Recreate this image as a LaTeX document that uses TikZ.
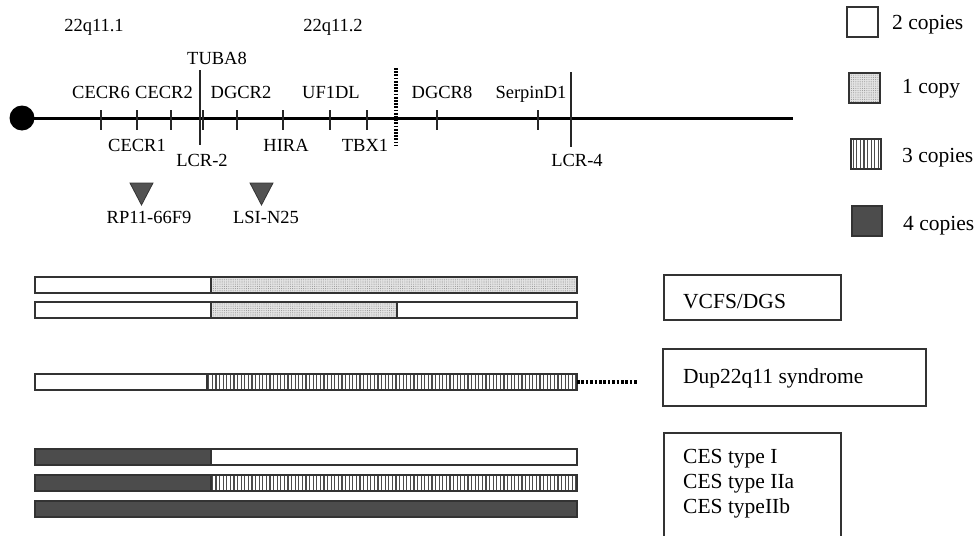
\documentclass[tikz,border=0pt]{standalone}
\usepackage{fontspec}
\setmainfont{Liberation Serif}
\usetikzlibrary{patterns,patterns.meta}
\tikzset{
  lab/.style={font=\fontsize{18.5}{20}\selectfont, anchor=base, inner sep=0pt},
  leg/.style={font=\fontsize{21.5}{24}\selectfont, anchor=base west, inner sep=0pt},
  tickmark/.style={line width=1.4pt, draw=black!85},
  lcr/.style={line width=1.5pt, draw=black!85},
  segbox/.style={draw=black!80, line width=1.3pt},
  whiteseg/.style={segbox, fill=white},
  stipseg/.style={segbox, preaction={fill=gray!22}, pattern={Dots[distance=2.2pt, radius=0.55pt]}, pattern color=gray!80},
  stripeseg/.style={segbox, preaction={fill=white}, pattern={Lines[angle=90,distance=3.6pt,line width=1.3pt]}, pattern color=black!70},
  darkseg/.style={segbox, fill=black!70},
  framebox/.style={draw=black!80, line width=1.4pt},
  probe/.style={draw=black!80, fill=black!68, line width=0.8pt},
}
\begin{document}
\begin{tikzpicture}[x=1pt,y=-1pt]
\useasboundingbox (0,0) rectangle (979,535);

% band labels
\node[lab] (b1) at (94,32) {22q11.1};
\node[lab] (b2) at (333,32) {22q11.2};

% chromosome
\node[circle, fill=black, minimum size=25pt, inner sep=0pt] (cen) at (22,118) {};
\coordinate (qter) at (793,118);
\draw[line width=3pt] (cen.center) -- (qter);

% ticks
\foreach \x in {101,137,171,203,237,283,330,367,437,538}
  \draw[tickmark] (\x,110) -- (\x,130);

% LCR lines and dotted boundary
\coordinate (l2t) at (200,70); \coordinate (l2b) at (200,145);
\coordinate (l4t) at (571,72); \coordinate (l4b) at (571,147);
\coordinate (dtt) at (396,68); \coordinate (dtb) at (396,145);
\draw[lcr] (l2t) -- (l2b);
\draw[lcr] (l4t) -- (l4b);
\draw[line width=3.2pt, dash pattern=on 1.8pt off 1.4pt] (dtt) -- (dtb);

% gene labels above
\node[lab] (tuba) at (217,64) {TUBA8};
\node[lab] (cecr6) at (101,98) {CECR6};
\node[lab] (cecr2) at (164,98) {CECR2};
\node[lab] (dgcr2) at (241,98) {DGCR2};
\node[lab] (uf1dl) at (331,98) {UF1DL};
\node[lab] (dgcr8) at (442,98) {DGCR8};
\node[lab] (serp) at (531,98) {SerpinD1};

% gene labels below
\node[lab] (cecr1) at (137,151) {CECR1};
\node[lab] (hira) at (286,151) {HIRA};
\node[lab] (tbx1) at (365,151) {TBX1};
\node[lab] (lcr2) at (202,166) {LCR-2};
\node[lab] (lcr4) at (577,166) {LCR-4};

% probes
\draw[probe] (130,183) -- (153,183) -- (141.5,205) -- cycle;
\draw[probe] (250,183) -- (273,183) -- (261.5,205) -- cycle;
\node[lab] (rp) at (149,223) {RP11-66F9};
\node[lab] (lsi) at (266,223) {LSI-N25};

% legend
\draw[whiteseg] (847,7) rectangle (878,37);
\node[leg] (lg1) at (892,30) {2 copies};
\draw[stipseg] (849,73) rectangle (880,103);
\node[leg] (lg2) at (902,93) {1 copy};
\draw[stripeseg] (851,139) rectangle (881,169);
\node[leg] (lg3) at (902,162) {3 copies};
\draw[darkseg] (852,206) rectangle (882,236);
\node[leg] (lg4) at (903,230) {4 copies};

% bars: VCFS/DGS
\draw[whiteseg] (35,277) rectangle (211,293);
\draw[stipseg] (211,277) rectangle (577,293);
\draw[whiteseg] (35,302) rectangle (211,318);
\draw[stipseg] (211,302) rectangle (397,318);
\draw[whiteseg] (397,302) rectangle (577,318);

% Dup22q11
\draw[whiteseg] (35,374) rectangle (207,390);
\draw[stripeseg] (207,374) rectangle (577,390);
\coordinate (dupend) at (577,382);
\coordinate (dupdots) at (637,382);
\draw[line width=3.4pt, dash pattern=on 2.6pt off 1.8pt] (dupend) -- (dupdots);

% CES
\draw[darkseg] (35,449) rectangle (211,465);
\draw[whiteseg] (211,449) rectangle (577,465);
\draw[darkseg] (35,475) rectangle (211,491);
\draw[stripeseg] (211,475) rectangle (577,491);
\draw[darkseg] (35,501) rectangle (577,517);

% right boxes
\draw[framebox] (664,275) rectangle (841,320);
\node[leg] (vcfs) at (683,308) {VCFS/DGS};
\draw[framebox] (663,349) rectangle (926,406);
\node[leg] (dup) at (683,383) {Dup22q11 syndrome};
\draw[framebox] (664,540) -- (664,433) -- (841,433) -- (841,540);
\node[leg] (ces1) at (683,463) {CES type I};
\node[leg] (ces2) at (683,488) {CES type IIa};
\node[leg] (ces3) at (683,513) {CES typeIIb};
\end{tikzpicture}
\end{document}
